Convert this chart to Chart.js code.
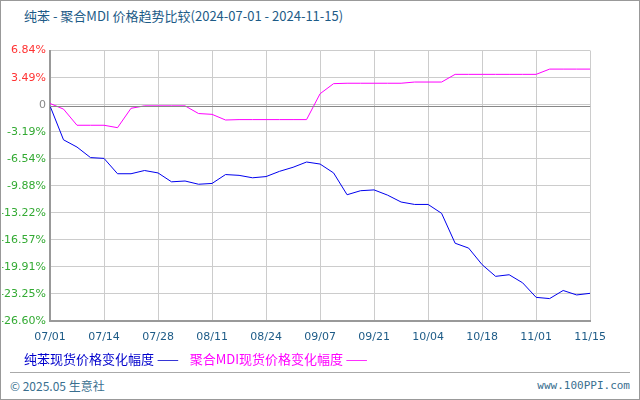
<!DOCTYPE html>
<html>
<head>
<meta charset="utf-8">
<script src="https://cdn.jsdelivr.net/npm/chart.js@4"></script>
<style>
  body { margin: 0; background: #fff; font-family: "Noto Sans CJK SC", "DejaVu Sans", sans-serif; }
  #frame { position: absolute; left: 0; top: 0; width: 638px; height: 398px; border: 1px solid #999; }
  #title { position: absolute; left: 24px; top: 6px; font-size: 13px; color: #1d5b87; }
  #box { position: absolute; left: 2px; top: 40px; width: 614px; height: 314px; }
  #legend { position: absolute; left: 24px; top: 349px; font-size: 13px; }
  #legend span { margin-right: 8px; }
  #sep { position: absolute; left: 10px; top: 372px; width: 620px; border-top: 1px solid #aaa; }
  #foot1 { position: absolute; left: 10px; top: 377px; font-size: 12px; color: #3a6f8f; }
  #foot2 { position: absolute; right: 10px; top: 379px; font-size: 11px; color: #3a6f8f; font-family: "DejaVu Sans Mono", monospace; }
</style>
</head>
<body>
<div id="frame"></div>
<div id="title">纯苯 - 聚合MDI 价格趋势比较(2024-07-01 - 2024-11-15)</div>
<div id="box"><canvas id="chart"></canvas></div>
<div id="legend">
  <span style="color:#0000cc">纯苯现货价格变化幅度 ——</span>
  <span style="color:#ff00ff">聚合MDI现货价格变化幅度 ——</span>
</div>
<div id="sep"></div>
<div id="foot1">© 2025.05 生意社</div>
<div id="foot2">www.100PPI.com</div>
<script>
const dateLabels = ['07/01', '07/14', '07/28', '08/11', '08/24', '09/07', '09/21', '10/04', '10/18', '11/01', '11/15'];
const yTicks = [6.84, 3.49, 0.15, -3.19, -6.54, -9.88, -13.22, -16.57, -19.91, -23.25, -26.6];

// positions in label intervals (0 = 07/01, 10 = 11/15)
const xPos = [0, 0.25, 0.5, 0.75, 1, 1.25, 1.5, 1.75, 2, 2.25, 2.5, 2.75, 3, 3.25, 3.5, 3.75, 4, 4.25, 4.5, 4.75,
  5, 5.25, 5.5, 5.75, 6, 6.25, 6.5, 6.75, 7, 7.25, 7.5, 7.75, 8, 8.25, 8.5, 8.75, 9, 9.25, 9.5, 9.75, 10];

const benzene = [0, -4.2, -5.1, -6.4, -6.5, -8.4, -8.4, -8.0, -8.3, -9.4, -9.3, -9.7, -9.6, -8.5, -8.6, -8.9, -8.75, -8.1, -7.6, -6.95,
  -7.2, -8.3, -11.0, -10.5, -10.4, -11.05, -11.9, -12.2, -12.2, -13.3, -17.0, -17.6, -19.65, -21.1, -20.9, -21.9, -23.7, -23.85, -22.85, -23.4, -23.2];

const mdi = [0.3, -0.4, -2.4, -2.4, -2.4, -2.7, -0.3, 0, 0, 0, 0, -0.95, -1.05, -1.75, -1.7, -1.7, -1.7, -1.7, -1.7, -1.7,
  1.5, 2.75, 2.8, 2.8, 2.8, 2.8, 2.8, 2.95, 2.95, 2.95, 3.9, 3.9, 3.9, 3.9, 3.9, 3.9, 3.9, 4.55, 4.55, 4.55, 4.55];

const toPoints = arr => arr.map((v, i) => ({ x: xPos[i], y: v }));

const zeroLine = {
  id: 'zeroLine',
  afterDatasetsDraw(chart) {
    const { ctx, chartArea, scales } = chart;
    const y = Math.round(scales.y.getPixelForValue(0)) + 0.5;
    ctx.save();
    ctx.strokeStyle = '#888';
    ctx.lineWidth = 1;
    ctx.beginPath();
    ctx.moveTo(chartArea.left, y);
    ctx.lineTo(chartArea.right, y);
    ctx.stroke();
    ctx.restore();
  }
};

new Chart(document.getElementById('chart'), {
  type: 'line',
  data: {
    datasets: [
      { data: toPoints(benzene), borderColor: '#0000ee', borderWidth: 1, pointRadius: 0, tension: 0 },
      { data: toPoints(mdi), borderColor: '#ff00ff', borderWidth: 1, pointRadius: 0, tension: 0 }
    ]
  },
  options: {
    responsive: true,
    maintainAspectRatio: false,
    animation: false,
    layout: { padding: { top: 8, right: 0 } },
    plugins: { legend: { display: false }, tooltip: { enabled: false } },
    scales: {
      x: {
        type: 'linear', min: 0, max: 10,
        grid: { color: '#ccc', borderDash: [3, 2], drawTicks: false },
        border: { color: '#999', width: 2 },
        afterBuildTicks: s => { s.ticks = dateLabels.map((_, i) => ({ value: i })); },
        ticks: { color: '#1d5b87', font: { size: 11, family: 'DejaVu Sans' }, padding: 10,
          maxRotation: 0, callback: (v) => dateLabels[v] }
      },
      y: {
        min: -26.6, max: 6.84,
        grid: { color: '#ccc', borderDash: [3, 2], drawTicks: false },
        border: { color: '#999', width: 2 },
        afterFit: s => { s.width = 48; },
        afterBuildTicks: s => { s.ticks = yTicks.map(v => ({ value: v })); },
        ticks: {
          font: { size: 11, family: 'DejaVu Sans' }, padding: 4,
          callback: v => v === 0.15 ? '0' : v.toFixed(2) + '%',
          color: c => c.tick.value > 1 ? '#ff3333' : (c.tick.value === 0.15 ? '#888' : '#33aa33')
        }
      }
    }
  },
  plugins: [zeroLine]
});
</script>
</body>
</html>
